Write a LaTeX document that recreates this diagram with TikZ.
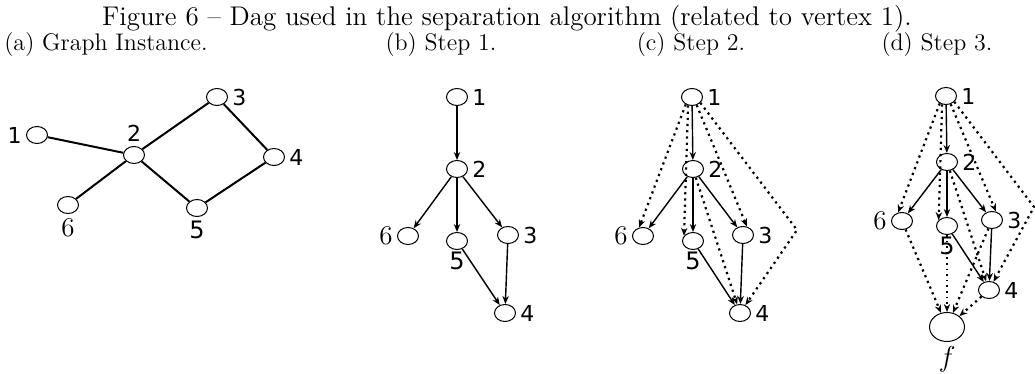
\documentclass[tikz,border=0pt]{standalone}
\usepackage{fontspec}
\newfontfamily\lblfont{DejaVu Sans}
\usetikzlibrary{shapes.geometric,arrows.meta}
\tikzset{
  vtx/.style={draw, ellipse, minimum width=10.5pt, minimum height=8.5pt, inner sep=0pt, line width=0.5pt},
  lbl/.style={font=\lblfont\fontsize{11}{11}\selectfont, inner sep=2pt},
  lblfive/.style={font=\lblfont\fontsize{12}{12}\selectfont, inner sep=1pt},
  lblsix/.style={font=\fontsize{13.5}{13.5}\selectfont, inner sep=2pt},
  capt/.style={font=\fontsize{12}{14}\selectfont, anchor=base, inner sep=0pt},
  edge/.style={line width=1pt},
  arc/.style={-{Stealth[length=4pt,width=3.2pt]}, line width=0.7pt},
  darc/.style={-{Stealth[length=4pt,width=3.2pt]}, dotted, line width=1.1pt},
}
\begin{document}
\begin{tikzpicture}[x=0.5pt,y=-0.5pt]
\useasboundingbox (0,0) rectangle (1035,374);
\node[capt, font=\fontsize{13.5}{15}\selectfont] (cap) at (507,26) {Figure 6 -- Dag used in the separation algorithm (related to vertex 1).};
\node[capt] (capa) at (106,51) {(a) Graph Instance.};
\node[capt] (capb) at (441,51) {(b) Step 1.};
\node[capt] (capc) at (691,51) {(c) Step 2.};
\node[capt] (capd) at (937,51) {(d) Step 3.};

% (a)
\node[vtx, label={[lbl]left:1}] (a1) at (37,135) {};
\node[vtx, label={[lbl]above:2}] (a2) at (134,155) {};
\node[vtx, label={[lbl]right:3}] (a3) at (217,97) {};
\node[vtx, label={[lbl]right:4}] (a4) at (274,157) {};
\node[vtx, label={[lblfive,label distance=1pt]below:5}] (a5) at (197,208) {};
\node[vtx, label={[lblsix]below:6}] (a6) at (68,205) {};
\draw[edge] (a1) -- (a2) -- (a3) -- (a4) -- (a5) -- (a2) -- (a6);

% (b)
\node[vtx, label={[lbl]right:1}] (b1) at (457,97) {};
\node[vtx, label={[lbl]right:2}] (b2) at (457,169) {};
\node[vtx, label={[lblsix]left:6}] (b6) at (408,236) {};
\node[vtx, label={[lblfive]below:5}] (b5) at (457,241) {};
\node[vtx, label={[lbl]right:3}] (b3) at (508,235) {};
\node[vtx, label={[lbl]right:4}] (b4) at (505,313) {};
\draw[arc] (b1) -- (b2);
\draw[arc] (b2) -- (b6);
\draw[arc] (b2) -- (b5);
\draw[arc] (b2) -- (b3);
\draw[arc] (b5) -- (b4);
\draw[arc] (b3) -- (b4);

% (c)
\node[vtx, label={[lbl]right:1}] (c1) at (692,97) {};
\node[vtx, label={[lbl]right:2}] (c2) at (693,169) {};
\node[vtx, label={[lblsix]left:6}] (c6) at (643,236) {};
\node[vtx, label={[lblfive]below:5}] (c5) at (693,241) {};
\node[vtx, label={[lbl]right:3}] (c3) at (743,235) {};
\node[vtx, label={[lbl]right:4}] (c4) at (740,313) {};
\coordinate (cbend) at (797,230);
\draw[arc] (c1) -- (c2);
\draw[arc] (c2) -- (c6);
\draw[arc] (c2) -- (c5);
\draw[arc] (c2) -- (c3);
\draw[arc] (c5) -- (c4);
\draw[arc] (c3) -- (c4);
\draw[darc] (c1.230) -- (c6.115);
\draw[darc] (c1.245) -- (c5.150);
\draw[darc] (c1.-60) -- (c3.65);
\draw[darc] (c1.-35) -- (cbend) -- (c4);
\draw[darc] (c2) -- (c4);

% (d)
\node[vtx, label={[lbl]right:1}] (d1) at (946,96) {};
\node[vtx, label={[lbl]right:2}] (d2) at (947,162) {};
\node[vtx, label={[lblsix]left:6}] (d6) at (902,221) {};
\node[vtx, label={[lblfive]below:5}] (d5) at (947,226) {};
\node[vtx, label={[lbl]right:3}] (d3) at (992,220) {};
\node[vtx, label={[lbl]right:4}] (d4) at (989,290) {};
\node[vtx, minimum width=17.5pt, minimum height=14.5pt, label={[font=\fontsize{14}{14}\selectfont, inner sep=2pt]below:$f$}] (df) at (947,327) {};
\coordinate (dbend) at (1034,207);
\draw[arc] (d1) -- (d2);
\draw[arc] (d2) -- (d6);
\draw[arc] (d2) -- (d5);
\draw[arc] (d2) -- (d3);
\draw[arc] (d5) -- (d4);
\draw[arc] (d3) -- (d4);
\draw[darc] (d1.230) -- (d6.115);
\draw[darc] (d1.245) -- (d5.145);
\draw[darc] (d1.-60) -- (d3.65);
\draw[darc] (d1.-35) -- (dbend) -- (d4);
\draw[darc] (d2) -- (d4);
\draw[darc] (d6) -- (df);
\draw[darc, line width=0.8pt] (d5) -- (df);
\draw[darc] (d3) -- (df);
\draw[darc] (d4) -- (df);
\end{tikzpicture}
\end{document}
